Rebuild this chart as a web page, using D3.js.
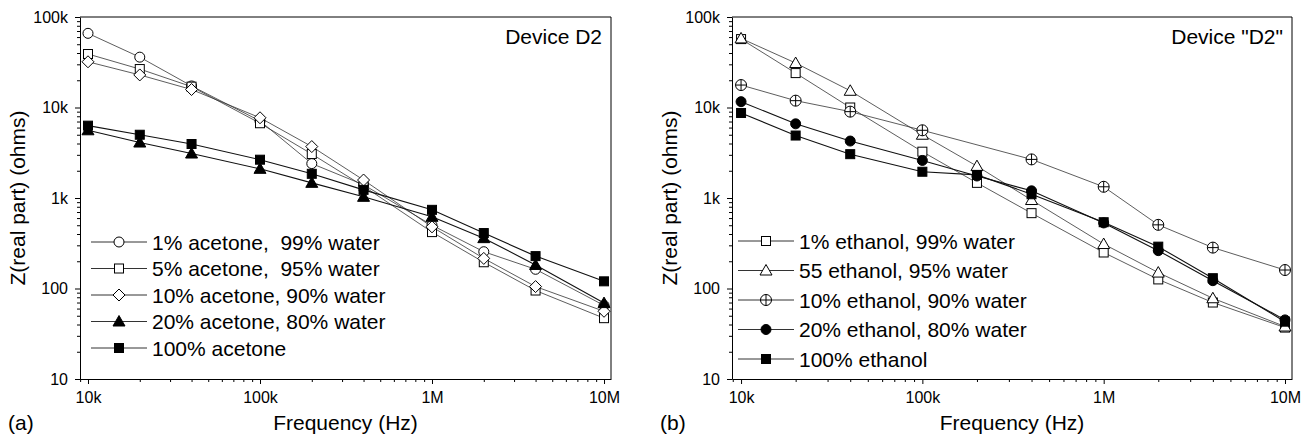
<!DOCTYPE html>
<html>
<head>
<meta charset="utf-8">
<script src="https://cdn.jsdelivr.net/npm/d3@7"></script>
<style>
  body { margin: 0; background: #fff; }
  svg { font-family: "Liberation Sans", Arial, Helvetica, sans-serif; }
</style>
</head>
<body>
<div id="chart"></div>
<script>
// measurement frequencies (Hz), shared by both panels
var freqs = [1e4, 2e4, 4e4, 1e5, 2e5, 4e5, 1e6, 2e6, 4e6, 1e7];

// panel (a): acetone / water mixtures, Z real part in ohms
var acetone1   = [66000, 36000, 17300, 7100, 2400, 1400, 500, 255, 163, 65];
var acetone5   = [39000, 26600, 17000, 6700, 3060, 1350, 420, 195, 95, 47];
var acetone10  = [32000, 22900, 15800, 7700, 3700, 1580, 480, 215, 105, 56];
var acetone20  = [5600, 4100, 3100, 2100, 1470, 1030, 620, 360, 182, 69];
var acetone100 = [6300, 5000, 3950, 2650, 1850, 1230, 740, 410, 228, 120];

// panel (b): ethanol / water mixtures (10% series has no 200k point)
var ethanol1   = [57000, 24000, 10000, 3250, 1470, 680, 250, 126, 70, 37];
var ethanol55  = [58000, 31000, 15300, 5000, 2250, 950, 310, 150, 78, 38];
var ethanol10  = [17700, 11900, 9000, 5600, null, 2670, 1330, 505, 283, 160];
var ethanol20  = [11600, 6600, 4260, 2600, 1750, 1200, 530, 262, 122, 45];
var ethanol100 = [8700, 4900, 3050, 1950, 1800, 1100, 540, 290, 130, 43];

var xTicks = [1e4, 1e5, 1e6, 1e7];
var xTickLabels = ["10k", "100k", "1M", "10M"];
var yTicks = [10, 100, 1e3, 1e4, 1e5];
var yTickLabels = ["10", "100", "1k", "10k", "100k"];

var panels = [
  {
    tag: "(a)", title: "Device D2",
    left: 80, right: 611, top: 17, bottom: 379,
    xDomain: [8985, 1.098e7],
    legendX: 91, legendY: 242, legendStep: 26.5,
    series: [
      {name: "1% acetone,  99% water", values: acetone1, shape: "circle", filled: false},
      {name: "5% acetone,  95% water", values: acetone5, shape: "square", filled: false},
      {name: "10% acetone, 90% water", values: acetone10, shape: "diamond", filled: false},
      {name: "20% acetone, 80% water", values: acetone20, shape: "triangle", filled: true},
      {name: "100% acetone", values: acetone100, shape: "square", filled: true}
    ]
  },
  {
    tag: "(b)", title: "Device \"D2\"",
    left: 732, right: 1292, top: 17, bottom: 379,
    xDomain: [8913, 1.093e7],
    legendX: 738, legendY: 241, legendStep: 29.5,
    series: [
      {name: "1% ethanol, 99% water", values: ethanol1, shape: "square", filled: false},
      {name: "55 ethanol, 95% water", values: ethanol55, shape: "triangle", filled: false},
      {name: "10% ethanol, 90% water", values: ethanol10, shape: "crosscircle", filled: false},
      {name: "20% ethanol, 80% water", values: ethanol20, shape: "circle", filled: true},
      {name: "100% ethanol", values: ethanol100, shape: "square", filled: true}
    ]
  }
];

var svg = d3.select("#chart")
  .append("svg")
    .attr("width", 1311)
    .attr("height", 437);

// draw one marker centred at (cx, cy)
function marker(g, shape, filled, cx, cy) {
  var fill = filled ? "#000" : "#fff";
  var m;
  if (shape === "circle") {
    m = g.append("circle").attr("cx", cx).attr("cy", cy).attr("r", 5);
  } else if (shape === "square") {
    m = g.append("rect").attr("x", cx - 4.5).attr("y", cy - 4.5)
      .attr("width", 9).attr("height", 9);
  } else if (shape === "diamond") {
    m = g.append("path").attr("d", "M" + cx + "," + (cy - 6) + "L" + (cx + 6) + "," + cy +
      "L" + cx + "," + (cy + 6) + "L" + (cx - 6) + "," + cy + "Z");
  } else if (shape === "triangle") {
    m = g.append("path").attr("d", "M" + cx + "," + (cy - 6) + "L" + (cx + 6) + "," + (cy + 4.5) +
      "L" + (cx - 6) + "," + (cy + 4.5) + "Z");
  } else if (shape === "crosscircle") {
    m = g.append("circle").attr("cx", cx).attr("cy", cy).attr("r", 5.5);
    g.append("path")
      .attr("d", "M" + (cx - 5.5) + "," + cy + "H" + (cx + 5.5) + "M" + cx + "," + (cy - 5.5) + "V" + (cy + 5.5))
      .attr("stroke", "#000").attr("stroke-width", 1);
  }
  m.attr("fill", fill).attr("stroke", "#000").attr("stroke-width", 1);
}

panels.forEach(function(p) {
  var x = d3.scaleLog().domain(p.xDomain).range([p.left, p.right]);
  var y = d3.scaleLog().domain([10, 1e5]).range([p.bottom, p.top]);
  var g = svg.append("g");

  // frame: top and right border
  g.append("path")
    .attr("d", "M" + p.left + "," + p.top + "H" + p.right + "V" + p.bottom)
    .attr("fill", "none").attr("stroke", "#000").attr("stroke-width", 1);

  // minor ticks
  var xMinor = x.ticks().filter(function(t) { return xTicks.indexOf(t) < 0; });
  var yMinor = y.ticks().filter(function(t) { return yTicks.indexOf(t) < 0; });

  var xm = g.append("g").attr("transform", "translate(0," + p.bottom + ")")
    .call(d3.axisBottom(x).tickValues(xMinor).tickSize(3).tickFormat(""));
  xm.select(".domain").remove();
  var ym = g.append("g").attr("transform", "translate(" + p.left + ",0)")
    .call(d3.axisLeft(y).tickValues(yMinor).tickSize(3).tickFormat(""));
  ym.select(".domain").remove();

  // major ticks and labels
  var xa = g.append("g").attr("transform", "translate(0," + p.bottom + ")")
    .call(d3.axisBottom(x).tickValues(xTicks).tickSize(5).tickSizeOuter(0).tickPadding(8)
      .tickFormat(function(d, i) { return xTickLabels[i]; }));
  var ya = g.append("g").attr("transform", "translate(" + p.left + ",0)")
    .call(d3.axisLeft(y).tickValues(yTicks).tickSize(5).tickSizeOuter(0).tickPadding(7)
      .tickFormat(function(d, i) { return yTickLabels[i]; }));

  [xa, ya].forEach(function(a) {
    a.attr("font-family", null).attr("font-size", 16);
    a.selectAll("text").attr("fill", "#000");
  });
  g.selectAll(".tick line, .domain").attr("stroke", "#000");

  // axis titles
  g.append("text")
    .attr("x", (p.left + p.right) / 2).attr("y", 430)
    .attr("text-anchor", "middle").attr("font-size", 21)
    .text("Frequency (Hz)");
  g.append("text")
    .attr("transform", "translate(" + (p.left - 55) + "," + ((p.top + p.bottom) / 2) + ") rotate(-90)")
    .attr("text-anchor", "middle").attr("font-size", 21)
    .text("Z(real part) (ohms)");
  g.append("text")
    .attr("x", p.left - 72).attr("y", 430)
    .attr("font-size", 21)
    .text(p.tag);
  g.append("text")
    .attr("x", p.right - 9).attr("y", 44)
    .attr("text-anchor", "end").attr("font-size", 21)
    .text(p.title);

  // series lines then markers
  var line = d3.line()
    .x(function(d) { return x(d.f); })
    .y(function(d) { return y(d.v); });

  p.series.forEach(function(s) {
    var pts = freqs.map(function(f, i) { return {f: f, v: s.values[i]}; })
      .filter(function(d) { return d.v !== null; });
    s.pts = pts;
    g.append("path")
      .datum(pts)
      .attr("d", line)
      .attr("fill", "none")
      .attr("stroke", s.filled ? "#111" : "#333")
      .attr("stroke-width", s.filled ? 1.1 : 0.8);
  });
  p.series.forEach(function(s) {
    s.pts.forEach(function(d) {
      marker(g, s.shape, s.filled, x(d.f), y(d.v));
    });
  });

  // legend
  p.series.forEach(function(s, i) {
    var ly = p.legendY + i * p.legendStep;
    g.append("line")
      .attr("x1", p.legendX).attr("x2", p.legendX + 56)
      .attr("y1", ly).attr("y2", ly)
      .attr("stroke", "#333").attr("stroke-width", 1);
    marker(g, s.shape, s.filled, p.legendX + 28, ly);
    g.append("text")
      .attr("x", p.legendX + 61).attr("y", ly + 7.5)
      .attr("font-size", 21)
      .attr("xml:space", "preserve")
      .style("white-space", "pre")
      .text(s.name);
  });
});
</script>
</body>
</html>
